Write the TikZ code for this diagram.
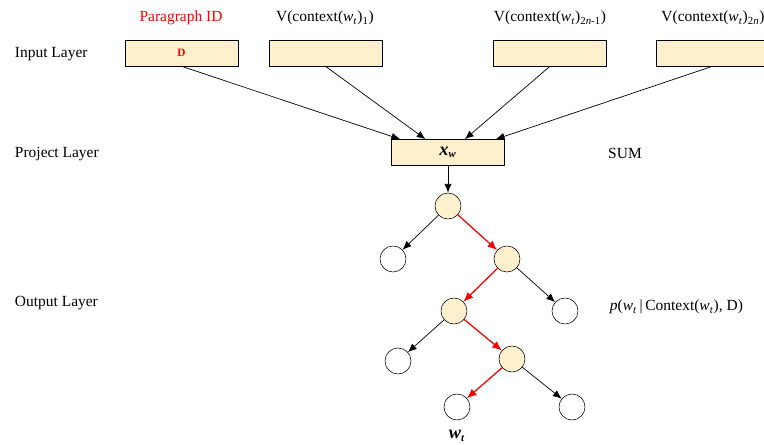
\documentclass[tikz,border=0pt]{standalone}
\usepackage{fontspec}
\setmainfont{Liberation Serif}
\usetikzlibrary{arrows.meta}
\definecolor{boxfill}{HTML}{FEF0CC}
\newcommand{\wt}{\textit{w}\textsubscript{\textit{t}}}
\tikzset{
    vecbox/.style={draw, fill=boxfill, minimum width=2.825cm, minimum height=0.65cm, inner sep=0pt},
    inner/.style={circle, draw, fill=boxfill, minimum size=0.65cm, inner sep=0pt},
    leaf/.style={circle, draw, fill=white, minimum size=0.65cm, inner sep=0pt},
    layer/.style={anchor=west, font=\fontsize{11}{13}\selectfont},
    arr/.style={-{Latex[length=2.2mm,width=1.8mm]}, line width=0.5pt},
    path/.style={-{Latex[length=2.4mm,width=2mm]}, red, line width=0.9pt}
}
\begin{document}
\begin{tikzpicture}[x=0.025cm, y=-0.025cm, font=\fontsize{11}{13}\selectfont]
    \clip (0,0) rectangle (764,445);

    % Layer names
    \node[layer] (lin) at (10,54) {Input Layer};
    \node[layer] (lproj) at (10,154) {Project Layer};
    \node[layer] (lout) at (10,303) {Output Layer};

    % Input vectors
    \node[vecbox] (pid) at (181.5,53) {\textcolor{red}{\fontsize{8}{9}\selectfont\textbf{D}}};
    \node[vecbox] (c1) at (325.5,53) {};
    \node[vecbox] (c2) at (550,53) {};
    \node[vecbox] (c3) at (712.5,53) {};
    \node[red] (tpid) at (181,18) {Paragraph ID};
    \node (tc1) at (325,18) {V(context(\wt)\textsubscript{1})};
    \node (tc2) at (550,18) {V(context(\wt)\textsubscript{2\textit{n}-1})};
    \node (tc3) at (713,18) {V(context(\wt)\textsubscript{2\textit{n}})};

    % Projection
    \node[vecbox] (xw) at (448,152.5) {\textbf{\textit{\fontsize{13}{15}\selectfont x}\textsubscript{\textit{w}}}};
    \node (sum) at (625,153) {SUM};
    \draw[arr] (pid.south) -- ([xshift=-34]xw.north);
    \draw[arr] (c1.south) -- ([xshift=-16]xw.north);
    \draw[arr] (c2.south) -- ([xshift=12]xw.north);
    \draw[arr] (c3.south) -- ([xshift=34]xw.north);

    % Huffman tree
    \node[inner] (n1) at (448,206) {};
    \node[leaf] (l1) at (393,259) {};
    \node[inner] (n2) at (507,259) {};
    \node[inner] (n3) at (454,311) {};
    \node[leaf] (l2) at (565,311) {};
    \node[leaf] (l3) at (398,361) {};
    \node[inner] (n4) at (512,359) {};
    \node[leaf] (wt) at (457,407) {};
    \node[leaf] (l4) at (572,407) {};
    \node (twt) at (457,436) {\textbf{\textit{\fontsize{13}{15}\selectfont w}\textsubscript{\textit{t}}}};
    \draw[arr] (xw) -- (n1);
    \draw[arr] (n1) -- (l1);
    \draw[path] (n1) -- (n2);
    \draw[arr] (n2) -- (l2);
    \draw[path] (n2) -- (n3);
    \draw[arr] (n3) -- (l3);
    \draw[path] (n3) -- (n4);
    \draw[arr] (n4) -- (l4);
    \draw[path] (n4) -- (wt);
    \node[anchor=west] (prob) at (605,307) {\textit{p}(\wt\,|\,Context(\wt), D)};
\end{tikzpicture}
\end{document}
